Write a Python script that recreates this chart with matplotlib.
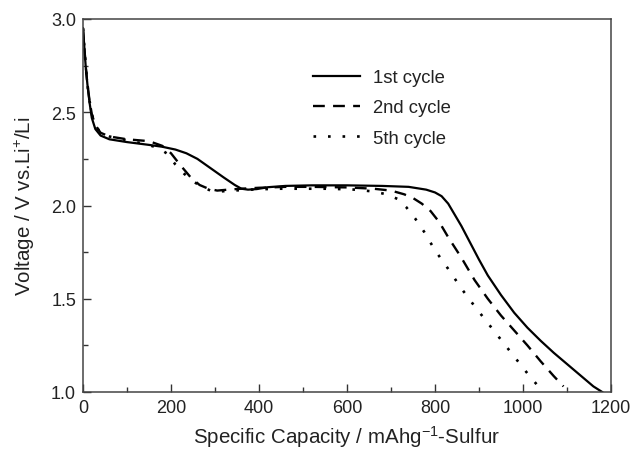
"""
Discharge profiles (voltage vs specific capacity) for three cycles.
"""

import matplotlib
matplotlib.use("Agg")
import matplotlib.pyplot as plt
from matplotlib.ticker import MultipleLocator

plt.rcParams['font.family'] = ['Liberation Sans', 'DejaVu Sans']

# values
cap_1st = [0, 3, 6, 10, 15, 20, 28, 40, 60, 100, 150, 180, 210, 235, 260, 290,
           320, 345, 360, 375, 395, 420, 460, 520, 600, 680, 740, 780, 800, 815,
           830, 845, 860, 880, 900, 920, 950, 980, 1010, 1040, 1070, 1100, 1130,
           1160, 1180]
volt_1st = [2.95, 2.85, 2.75, 2.65, 2.55, 2.47, 2.41, 2.375, 2.355, 2.34, 2.325,
            2.315, 2.30, 2.28, 2.25, 2.20, 2.15, 2.11, 2.09, 2.085, 2.088, 2.098,
            2.105, 2.108, 2.108, 2.105, 2.10, 2.085, 2.07, 2.05, 2.01, 1.95, 1.89,
            1.80, 1.71, 1.625, 1.52, 1.425, 1.345, 1.275, 1.21, 1.15, 1.09, 1.03,
            1.0]

cap_2nd = [0, 3, 6, 10, 15, 20, 28, 40, 60, 100, 150, 180, 200, 220, 245, 265,
           285, 305, 330, 360, 400, 460, 520, 600, 660, 700, 730, 750, 770, 790,
           810, 830, 860, 890, 920, 950, 980, 1010, 1040, 1070, 1092]
volt_2nd = [2.95, 2.85, 2.75, 2.65, 2.56, 2.49, 2.43, 2.39, 2.37, 2.355, 2.345,
            2.32, 2.28, 2.22, 2.15, 2.11, 2.09, 2.08, 2.085, 2.09, 2.095, 2.10,
            2.10, 2.097, 2.09, 2.08, 2.06, 2.04, 2.01, 1.97, 1.91, 1.83, 1.72,
            1.60, 1.50, 1.41, 1.33, 1.25, 1.165, 1.085, 1.03]

cap_5th = [0, 3, 6, 10, 15, 20, 28, 40, 60, 100, 140, 170, 190, 210, 230, 250,
           270, 290, 310, 340, 380, 440, 500, 560, 620, 660, 690, 715, 735, 755,
           775, 800, 830, 860, 890, 920, 950, 980, 1010, 1035]
volt_5th = [2.95, 2.85, 2.75, 2.65, 2.56, 2.49, 2.43, 2.39, 2.37, 2.35, 2.33,
            2.31, 2.28, 2.22, 2.17, 2.13, 2.10, 2.08, 2.075, 2.08, 2.085, 2.09,
            2.09, 2.09, 2.085, 2.075, 2.06, 2.035, 1.99, 1.93, 1.86, 1.76, 1.66,
            1.555, 1.46, 1.37, 1.28, 1.19, 1.10, 1.03]

labels = ['1st cycle', '2nd cycle', '5th cycle']

fig = plt.figure(figsize=(6.31, 4.56), dpi=100)
ax = fig.add_axes([83 / 631, 1 - 393 / 456, 528 / 631, 373 / 456])

ax.plot(cap_1st, volt_1st, color='black', lw=1.6, ls='-', label=labels[0])
ax.plot(cap_2nd, volt_2nd, color='black', lw=1.7, ls=(0, (5, 3.5)), label=labels[1])
ax.plot(cap_5th, volt_5th, color='black', lw=1.9, ls=(0, (1, 4.5)), label=labels[2])

ax.set_xlim(0, 1200)
ax.set_ylim(1.0, 3.0)
ax.xaxis.set_major_locator(MultipleLocator(200))
ax.xaxis.set_minor_locator(MultipleLocator(100))
ax.yaxis.set_major_locator(MultipleLocator(0.5))
ax.yaxis.set_minor_locator(MultipleLocator(0.25))
ax.yaxis.set_major_formatter(plt.FormatStrFormatter('%.1f'))
ax.tick_params(which='both', direction='in', top=False, right=False,
               labelsize=13, colors='#333333', labelcolor='#222222')
ax.tick_params(which='major', length=6, width=1, pad=5)
ax.tick_params(which='minor', length=3.5, width=1)
for sp in ax.spines.values():
    sp.set_color('#444444')
    sp.set_linewidth(1.1)

ax.set_xlabel(r'Specific Capacity / mAhg$\mathregular{^{-1}}$-Sulfur',
              fontsize=14.8, color='#222222', labelpad=5)
ax.set_ylabel(r'Voltage / V vs.Li$\mathregular{^{+}}$/Li',
              fontsize=14.8, color='#222222', labelpad=10)

ax.legend(loc='upper left', bbox_to_anchor=(0.405, 0.91), frameon=False,
          fontsize=13.3, handlelength=2.5, handletextpad=0.75,
          labelspacing=0.72, labelcolor='#222222')

fig.savefig('out.png', dpi=100)
